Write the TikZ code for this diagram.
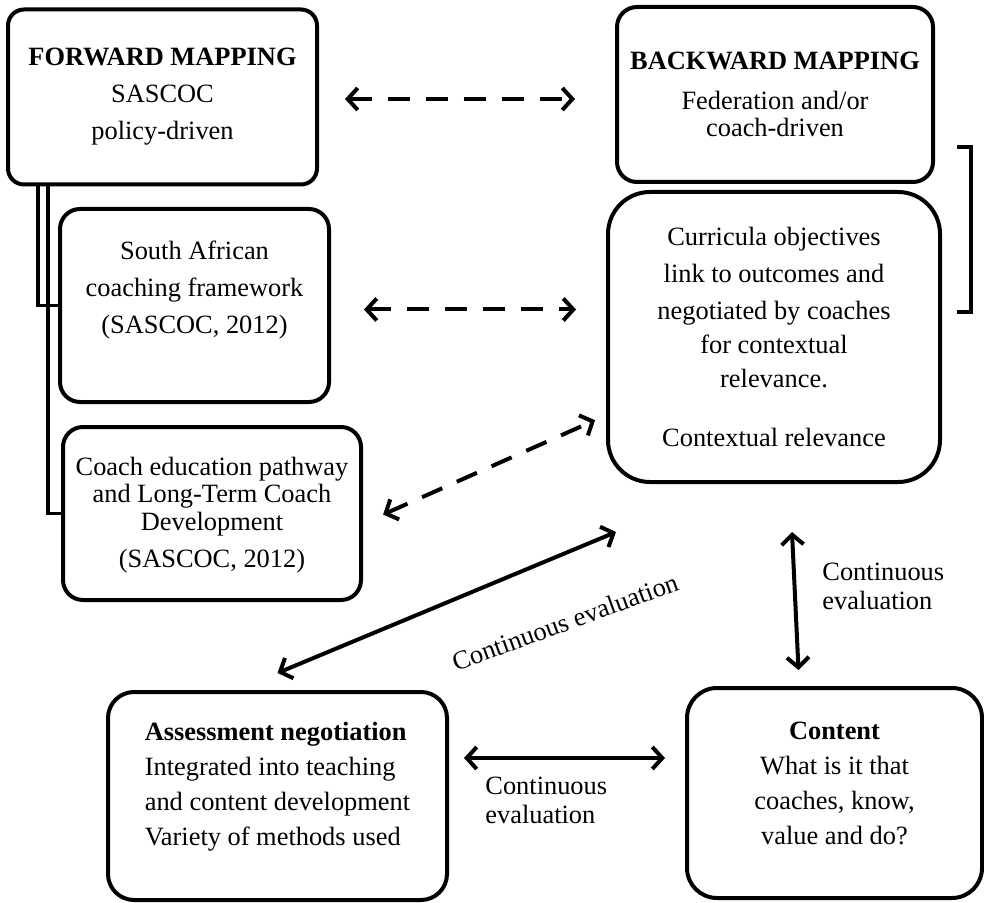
\documentclass[tikz,border=0pt]{standalone}
\usepackage{fontspec}
\setmainfont{Liberation Serif}
\usetikzlibrary{arrows.meta}
\tikzstyle{mapbox} = [rectangle, rounded corners=10pt, draw, line width=2pt, align=center, inner sep=0pt, font=\fontsize{13.2}{18.5}\selectfont]
\tikzstyle{dasharrow} = [line width=2pt, dash pattern=on 11pt off 8pt, <->]
\tikzstyle{evalarrow} = [line width=2pt, <->]
\tikzstyle{link} = [line width=1.75pt]
\tikzstyle{evallabel} = [inner sep=0pt, align=left, font=\fontsize{13.2}{14.5}\selectfont]

\begin{document}
\begin{tikzpicture}[x=0.5pt, y=-0.5pt, >={Straight Barb[length=5pt,width=11pt]}]
\useasboundingbox (0,0) rectangle (984,903);

% Forward mapping column
\node[mapbox, rounded corners=8pt, minimum width=154.5pt, minimum height=87.5pt] (fm) at (162.5,97) {\textbf{FORWARD MAPPING}\\SASCOC\\policy-driven};
\node[mapbox, minimum width=134.5pt, minimum height=96.5pt] (sa) at (194.5,305.5) {South African\\coaching framework\\(SASCOC, 2012)\\\mbox{}};
\node[mapbox, minimum width=149pt, minimum height=86.5pt] (coach) at (212,513.5) {Coach education pathway\\[-4.75pt]and Long-Term Coach\\[-4.75pt]Development\\(SASCOC, 2012)\\[-17pt]\mbox{}};

% Backward mapping column
\node[mapbox, minimum width=158pt, minimum height=87.5pt] (bm) at (775,94.5) {\textbf{BACKWARD MAPPING}\\[1.5pt]Federation and/or\\[-5pt]coach-driven};
\node[mapbox, rounded corners=21pt, minimum width=166pt, minimum height=145pt] (cur) at (774,337) {Curricula objectives\\link to outcomes and\\negotiated by coaches\\[-1.5pt]for contextual\\[-1.5pt]relevance.\\[11pt]Contextual relevance};

% Bottom row
\node[mapbox, rounded corners=13pt, minimum width=169.5pt, minimum height=104pt, align=left] (assess) at (277.5,796) {\textbf{Assessment negotiation}\\[-1pt]Integrated into teaching\\[-1pt]and content development\\[-1pt]Variety of methods used\\[-6pt]\mbox{}};
\node[mapbox, rounded corners=15pt, minimum width=147.5pt, minimum height=105pt] (cont) at (834.5,793) {\textbf{Content}\\[-1pt]What is it that\\[-1pt]coaches, know,\\[-1pt]value and do?\\[-9pt]\mbox{}};

% Links from forward mapping
\draw[link] ([xshift=16pt]fm.south west) |- (sa.west);
\draw[link] ([xshift=21pt]fm.south west) |- (coach.west);

% Bracket
\draw[line width=2pt] (957,147) -| (971,312) -- (957,312);

% Dashed connections
\draw[dasharrow, shorten <=13pt, shorten >=20pt] ([yshift=-1pt]fm.east) -- ([yshift=-1pt]fm.east -| bm.west);
\draw[dasharrow, shorten <=16.5pt, shorten >=15pt] ([yshift=-2pt]sa.east) -- ([yshift=-2pt]sa.east -| cur.west);
\draw[dasharrow, shorten <=11pt, shorten >=6pt] ([yshift=-5pt]coach.east) -- (cur.205);

% Continuous evaluation
\coordinate (ae) at ([yshift=19pt]assess.east);
\draw[evalarrow] ([yshift=8.5pt]assess.north) -- ([xshift=5pt,yshift=-24pt]cur.south west);
\draw[evalarrow] ([xshift=9pt,yshift=-24pt]cur.south) -- ([xshift=-18pt,yshift=8pt]cont.north);
\draw[evalarrow, shorten <=7.5pt, shorten >=10pt] (ae) -- (ae -| cont.west);

\node[evallabel, rotate=20] (evdiag) at (565,622) {Continuous evaluation};
\node[evallabel, anchor=west] (evright) at (822,586) {Continuous\\evaluation};
\node[evallabel, anchor=west] (evbottom) at (485,800) {Continuous\\evaluation};
\end{tikzpicture}
\end{document}
